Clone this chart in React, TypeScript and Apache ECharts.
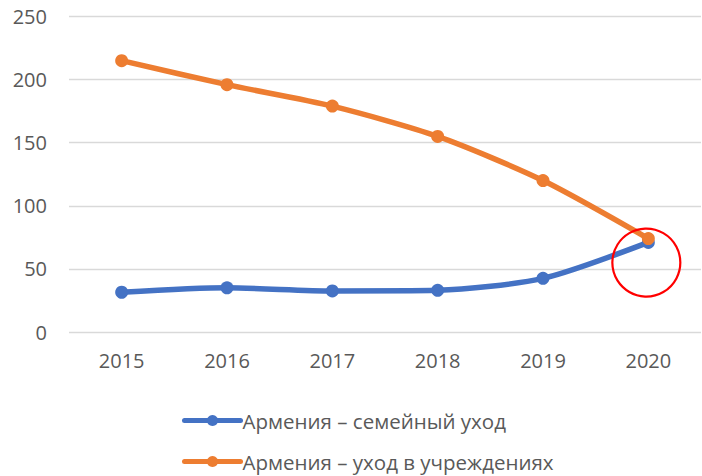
import React, { useEffect, useRef } from "react";
import * as echarts from "echarts";

const years = ["2015", "2016", "2017", "2018", "2019", "2020"];
const family = [31.5, 35, 32.5, 33, 42.5, 71];
const institutions = [215, 196, 179, 155, 120, 74];
const seriesNames = ["Армения – семейный уход", "Армения – уход в учреждениях"];
const yTicks = { min: 0, max: 250, interval: 50 };
const circleAt = { category: "2020", value: 55 };

export default function App() {
  const ref = useRef<HTMLDivElement>(null);
  useEffect(() => {
    const chart = echarts.init(ref.current!, undefined, { renderer: "svg" });
    const font = "Open Sans";
    const legendBase = {
      orient: "horizontal",
      left: 177,
      itemWidth: 56,
      itemHeight: 14,
      lineStyle: { width: 5, cap: "round" },
      textStyle: { color: "#595959", fontSize: 20.5, fontFamily: font, padding: [0, 0, 0, -3] },
    };
    chart.setOption({
      animation: false,
      textStyle: { fontFamily: font },
      grid: { left: 69, right: 1, top: 16.5, bottom: 144, containLabel: false },
      xAxis: {
        type: "category",
        data: years,
        boundaryGap: true,
        axisLine: { show: false },
        axisTick: { show: false },
        axisLabel: { color: "#595959", fontSize: 20, margin: 18, fontFamily: font },
      },
      yAxis: {
        type: "value",
        min: yTicks.min,
        max: yTicks.max,
        interval: yTicks.interval,
        axisLine: { show: false },
        axisTick: { show: false },
        axisLabel: { color: "#595959", fontSize: 20, margin: 22, fontFamily: font },
        splitLine: { lineStyle: { color: "#d9d9d9", width: 1.3 } },
      },
      legend: [
        { ...legendBase, top: 405, data: [seriesNames[0]] },
        { ...legendBase, top: 446, data: [seriesNames[1]] },
      ],
      series: [
        {
          name: seriesNames[0],
          type: "line",
          data: family,
          smooth: 0.25,
          symbol: "circle",
          symbolSize: 13,
          lineStyle: { color: "#4472c4", width: 5.5, cap: "round" },
          itemStyle: { color: "#4472c4" },
        },
        {
          name: seriesNames[1],
          type: "line",
          data: institutions,
          smooth: 0.25,
          symbol: "circle",
          symbolSize: 13,
          lineStyle: { color: "#ed7d31", width: 5.5, cap: "round" },
          itemStyle: { color: "#ed7d31" },
        },
      ],
    });
    const p = chart.convertToPixel({ gridIndex: 0 }, [circleAt.category, circleAt.value]);
    if (p) {
      chart.setOption({
        graphic: [
          {
            type: "circle",
            shape: { cx: p[0] - 2, cy: p[1], r: 34 },
            style: { fill: "none", stroke: "#ff0000", lineWidth: 2.2 },
            z: 100,
          },
        ],
      });
    }
    return () => chart.dispose();
  }, []);
  return <div ref={ref} style={{ width: 702, height: 476, position: "absolute", left: 0, top: 0 }} />;
}
